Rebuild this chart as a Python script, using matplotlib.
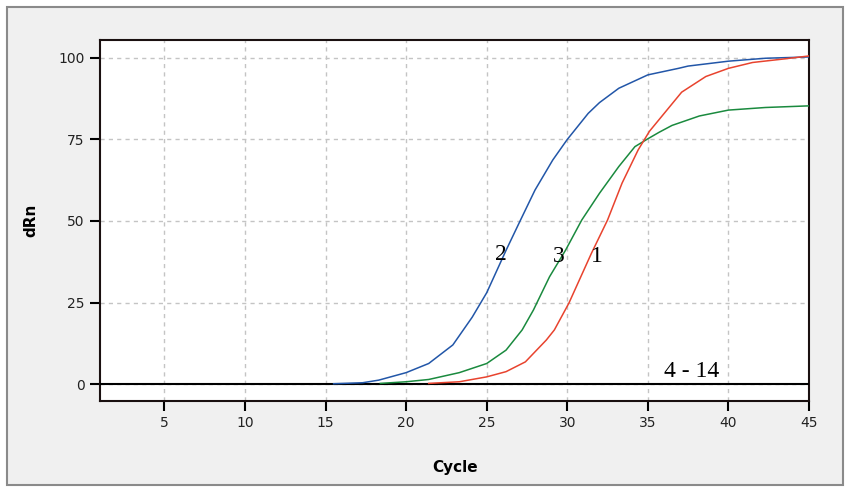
import matplotlib.pyplot as plt
from matplotlib.patches import Rectangle

# curve 2 (blue)
blue_x = [15.5, 17.3, 18.3, 20, 21.4, 22.9, 24.1, 25, 26.2, 27.1, 28, 29.1,
          30, 31.3, 32, 33.2, 35, 36.9, 37.5, 40, 42.3, 45]
blue_y = [0.1, 0.4, 1.2, 3.5, 6.3, 12, 20.5, 28, 41, 50.3, 59.5, 68.7,
          75, 83, 86.3, 90.7, 94.8, 96.8, 97.5, 99, 99.9, 100.3]

# curve 3 (green)
green_x = [18.4, 20, 21.4, 23.3, 25, 26.2, 27.2, 27.9, 28.9, 29.9, 30.9, 32,
           33.2, 34.2, 35, 35.7, 36.5, 38.2, 40, 42.3, 45]
green_y = [0.2, 0.7, 1.4, 3.5, 6.3, 10.4, 16.6, 22.7, 32.9, 41.1, 50.3, 58.5,
           66.7, 72.8, 75.2, 77.2, 79.3, 82.2, 84, 84.8, 85.3]

# curve 1 (red)
red_x = [21.4, 23.3, 25, 26.2, 27.4, 28.7, 29.2, 30.1, 31.5, 32.5, 33.4, 34.4,
         35.1, 36.1, 37.1, 38.6, 40, 41.5, 43.3, 45]
red_y = [0.2, 0.7, 2.2, 3.8, 6.8, 13.5, 16.6, 24.8, 40.1, 50.3, 61.6, 71.8,
         77.5, 83.5, 89.5, 94.3, 96.8, 98.6, 99.6, 100.6]

# samples 4 - 14 stay flat at zero
flat_x = [1, 45]
flat_y = [0, 0]

x_ticks = [5, 10, 15, 20, 25, 30, 35, 40, 45]
y_ticks = [0, 25, 50, 75, 100]

fig = plt.figure(figsize=(8.51, 4.93), dpi=100)
fig.patch.set_facecolor('white')
fig.patches.append(Rectangle((0.0082, 0.0162), 0.9824, 0.9696, transform=fig.transFigure,
                             facecolor='#f0f0f0', edgecolor='#8a8a8a', linewidth=1.5, zorder=-1))

ax = fig.add_axes([0.1175, 0.1866, 0.8331, 0.7323])
ax.set_zorder(2)
ax.set_facecolor('white')

ax.plot(flat_x, flat_y, color='black', linewidth=1.5, zorder=3)
ax.plot(blue_x, blue_y, color='#2256a8', linewidth=1.1, zorder=4)
ax.plot(green_x, green_y, color='#1a8a3e', linewidth=1.1, zorder=4)
ax.plot(red_x, red_y, color='#e8432e', linewidth=1.1, zorder=4)

ax.set_xlim(1, 45)
ax.set_ylim(-5.2, 105.5)
ax.set_xticks(x_ticks)
ax.set_yticks(y_ticks)
ax.tick_params(direction='out', length=7, width=1.5, colors='black', labelsize=10, pad=4)
for lbl in ax.get_xticklabels() + ax.get_yticklabels():
    lbl.set_color('#222222')
ax.grid(True, linestyle=(0, (3, 3)), color='#c4c4c4', linewidth=1.0)
for s in ax.spines.values():
    s.set_linewidth(1.5)
    s.set_color('#1a1010')

fig.text(0.5347, 0.0527, 'Cycle', fontsize=11, fontweight='bold', ha='center', va='center')
fig.text(0.036, 0.553, 'dRn', fontsize=11, fontweight='bold', rotation=90, ha='center', va='center')

# curve labels
lab_font = dict(family='Liberation Serif', fontsize=17, ha='center', va='center', zorder=5)
ax.text(25.9, 39.6, '2', **lab_font)
ax.text(29.5, 39, '3', **lab_font)
ax.text(31.85, 39, '1', **lab_font)
ax.text(37.7, 3.7, '4 - 14', **lab_font)

fig.savefig('out.png', dpi=100)
